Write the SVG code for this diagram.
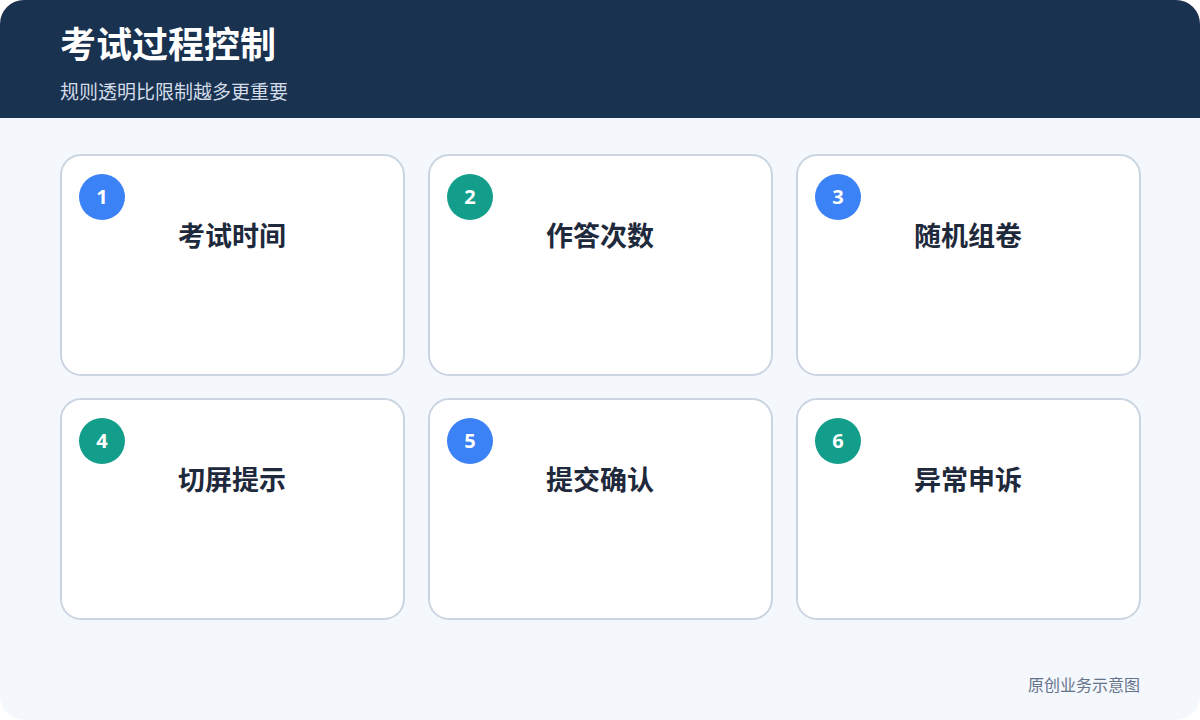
<svg xmlns="http://www.w3.org/2000/svg" width="1200" height="720" viewBox="0 0 1200 720">
<defs>
<style>
.card{fill:#ffffff;stroke:#cbd5e1;stroke-width:2}
.ttl{font-family:"Noto Sans CJK SC","Noto Sans",sans-serif;font-size:27px;font-weight:700;fill:#1e293b;text-anchor:middle}
.num{font-family:"Open Sans","Noto Sans",sans-serif;font-size:20px;font-weight:700;fill:#ffffff;text-anchor:middle}
.blue{fill:#3b82f6}
.teal{fill:#129e8a}
</style>
<clipPath id="bg"><rect x="0" y="0" width="1200" height="720" rx="24"/></clipPath>
</defs>
<rect width="1200" height="720" fill="#ffffff"/>
<g clip-path="url(#bg)">
<rect x="0" y="0" width="1200" height="720" fill="#f4f7fc"/>
<rect x="0" y="0" width="1200" height="118" fill="#183250"/>
</g>
<text x="60" y="58" font-family="Noto Sans CJK SC,Noto Sans,sans-serif" font-size="36" font-weight="700" fill="#ffffff">考试过程控制</text>
<text x="60" y="99" font-family="Noto Sans CJK SC,Noto Sans,sans-serif" font-size="19" fill="#d3dce8">规则透明比限制越多更重要</text>
<g id="connectors"></g>
<g id="node1">
<rect class="card" x="61" y="155" width="343" height="220" rx="20"/>
<circle class="blue" cx="102" cy="197" r="23"/>
<text class="num" x="102" y="204">1</text>
<text class="ttl" x="232" y="246">考试时间</text>
</g>
<g id="node2">
<rect class="card" x="429" y="155" width="343" height="220" rx="20"/>
<circle class="teal" cx="470" cy="197" r="23"/>
<text class="num" x="470" y="204">2</text>
<text class="ttl" x="600" y="246">作答次数</text>
</g>
<g id="node3">
<rect class="card" x="797" y="155" width="343" height="220" rx="20"/>
<circle class="blue" cx="838" cy="197" r="23"/>
<text class="num" x="838" y="204">3</text>
<text class="ttl" x="968" y="246">随机组卷</text>
</g>
<g id="node4">
<rect class="card" x="61" y="399" width="343" height="220" rx="20"/>
<circle class="teal" cx="102" cy="441" r="23"/>
<text class="num" x="102" y="448">4</text>
<text class="ttl" x="232" y="490">切屏提示</text>
</g>
<g id="node5">
<rect class="card" x="429" y="399" width="343" height="220" rx="20"/>
<circle class="blue" cx="470" cy="441" r="23"/>
<text class="num" x="470" y="448">5</text>
<text class="ttl" x="600" y="490">提交确认</text>
</g>
<g id="node6">
<rect class="card" x="797" y="399" width="343" height="220" rx="20"/>
<circle class="teal" cx="838" cy="441" r="23"/>
<text class="num" x="838" y="448">6</text>
<text class="ttl" x="968" y="490">异常申诉</text>
</g>
<text x="1140" y="691" text-anchor="end" font-family="Noto Sans CJK SC,Noto Sans,sans-serif" font-size="16" fill="#64748b">原创业务示意图</text>
</svg>
